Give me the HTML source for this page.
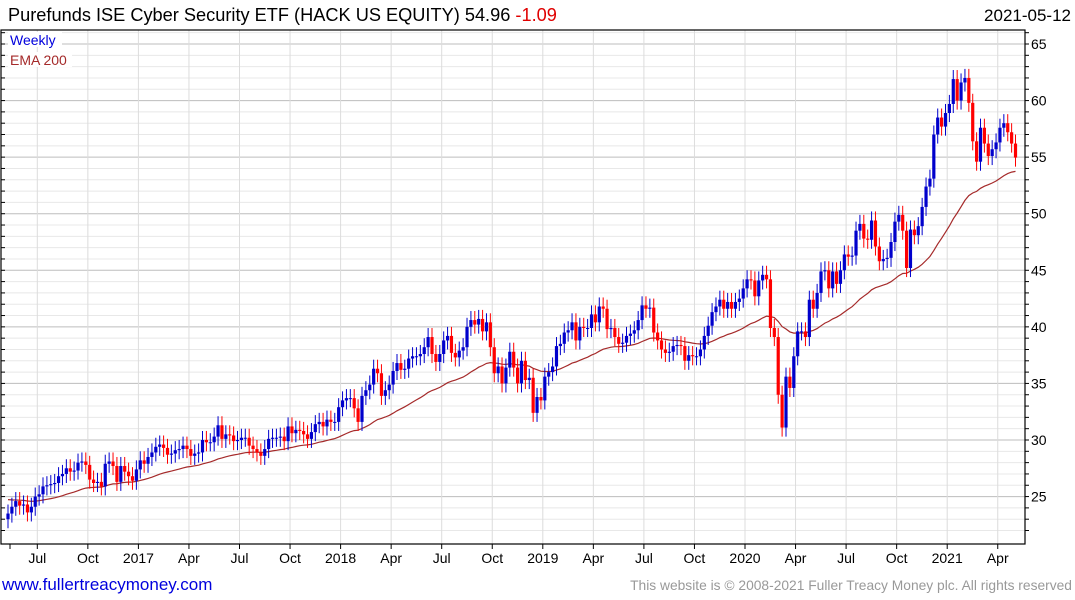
<!DOCTYPE html>
<html><head><meta charset="utf-8">
<style>
html,body{margin:0;padding:0;background:#fff;}
svg{display:block;font-family:"Liberation Sans",sans-serif;}
</style></head>
<body>
<svg id="chart" width="1075" height="600" viewBox="0 0 1075 600" xmlns="http://www.w3.org/2000/svg">
  <text x="8" y="21" font-size="18.2" fill="#000">Purefunds ISE Cyber Security ETF (HACK US EQUITY) 54.96 <tspan fill="#e00000">-1.09</tspan></text>
  <text x="1071" y="21" font-size="17" fill="#000" text-anchor="end">2021-05-12</text>
  <g id="grid"></g>
  <g id="marks"></g>
  <g id="axes"></g>
  <rect x="8" y="32" width="54" height="15" fill="#fff"/>
  <text x="10" y="45" font-size="14" fill="#0000dd">Weekly</text>
  <rect x="8" y="52" width="64" height="15" fill="#fff"/>
  <text x="10" y="65" font-size="14" fill="#a52a2a">EMA 200</text>
  <text x="2" y="590" font-size="17" fill="#0000dd">www.fullertreacymoney.com</text>
  <text x="1072" y="590" font-size="13.8" fill="#999" text-anchor="end">This website is © 2008-2021 Fuller Treacy Money plc. All rights reserved</text>
</svg>
<script>
const closes = [
23.5,24.1,24.6,24.2,24.3,23.6,24.1,25.0,25.2,25.9,26.0,26.1,26.2,26.8,27.0,27.5,27.2,27.3,28.0,28.1,
27.8,26.5,26.2,26.3,25.9,27.9,28.1,27.7,26.3,27.7,27.2,26.8,26.4,27.4,28.2,27.9,28.5,28.9,29.4,29.6,
29.3,28.7,28.8,29.1,29.2,29.5,29.2,28.6,28.8,28.9,30.0,29.8,29.8,30.3,31.3,30.1,30.5,30.4,29.9,30.0,
30.2,30.2,29.5,29.2,
28.9,28.6,29.2,30.1,30.2,30.2,30.3,29.9,31.2,30.6,30.9,30.8,30.5,30.1,30.7,31.4,31.6,31.2,31.8,31.6,
31.6,32.9,33.5,33.7,33.7,32.8,31.6,33.9,34.4,34.9,36.3,35.9,33.9,34.4,34.9,36.1,36.8,36.2,36.3,37.2,
37.4,37.4,37.6,38.2,39.1,37.6,36.9,37.6,38.8,39.2,37.7,37.3,37.9,38.2,40.0,40.6,40.2,40.7,39.6,40.4,
38.2,35.9,36.5,35.0,36.4,37.8,
36.4,35.0,37.0,35.3,35.5,32.4,33.8,33.5,35.6,36.0,36.5,38.3,38.5,39.5,39.7,40.4,38.8,40.0,39.9,39.9,
41.1,40.4,41.8,41.6,39.8,39.9,39.1,38.5,38.6,39.2,39.4,39.7,40.6,41.9,41.6,41.7,39.5,38.8,38.0,37.7,
37.8,38.3,38.4,38.3,37.0,37.5,37.4,37.4,38.0,39.2,40.1,41.3,41.8,42.4,41.6,42.2,41.6,42.2,42.5,43.4,
44.2,44.1,42.7,44.1,44.6,44.2,39.9,39.1,
34.0,31.1,35.6,34.6,37.4,39.6,39.6,39.1,42.4,41.6,43.0,44.9,45.0,43.4,44.9,43.8,45.0,46.4,46.2,46.3,
48.5,49.1,47.8,47.7,49.4,47.1,45.8,46.0,46.1,47.5,49.3,49.9,48.5,45.2,48.6,48.1,48.9,50.6,52.4,53.1,
57.0,58.5,57.7,58.9,59.7,61.9,60.0,61.6,62.0,59.8,56.4,54.6,57.6,56.2,55.1,55.7,56.3,57.6,58.0,57.2,
56.2,54.96
];
const firstOpen = 23.0;
const emaStart = 24.8;
const emaWeeks = 40;
const yTicks = [25,30,35,40,45,50,55,60,65];
const xTickLabels = ["Jul","Oct","2017","Apr","Jul","Oct","2018","Apr","Jul","Oct","2019","Apr","Jul","Oct","2020","Apr","Jul","Oct","2021","Apr"];

const NS = "http://www.w3.org/2000/svg";
const L = 1, R = 1025, T = 30, B = 544;
const yScale = v => 44 + (65 - v) * (396 / 35);
const xScale = i => 8 + i * 3.89;
const qx = k => 37.3 + k * 50.55;
function mk(tag, attrs, parent){ const e = document.createElementNS(NS, tag); for (const k in attrs) e.setAttribute(k, attrs[k]); parent.appendChild(e); return e; }
const grid = document.getElementById('grid'), marks = document.getElementById('marks'), axes = document.getElementById('axes');

for (let v = 22; v <= 66; v++) {
  const y = yScale(v);
  if (y < T || y > B) continue;
  const major = v % 5 === 0;
  const ln = mk('line', {x1:L, x2:R, y1:y, y2:y, stroke: major ? '#bdbdbd' : '#e8e8e8', 'stroke-width':1}, grid);
  
  
  const tk = mk('line', {x1:R, x2:R+4, y1:y, y2:y, stroke:'#000', 'stroke-width':1}, axes);
  
  
  const tl = mk('line', {x1:L, x2:L+4, y1:y, y2:y, stroke:'#000', 'stroke-width':1}, axes);
  
  
}
yTicks.forEach(v => {
  const t = mk('text', {x:R+6, y:yScale(v)+5, 'font-size':14, fill:'#000'}, axes);
  t.textContent = v;
  
  
});
xTickLabels.forEach((lab, k) => {
  const x = qx(k);
  const g = mk('line', {x1:x, x2:x, y1:T, y2:B, stroke:'#dcdcdc', 'stroke-width':1}, grid);
  
  
  const tk = mk('line', {x1:x, x2:x, y1:B, y2:B+5, stroke:'#000', 'stroke-width':1}, axes);
  
  
  const t = mk('text', {x:x, y:563, 'font-size':14, fill:'#000', 'text-anchor':'middle'}, axes);
  t.textContent = lab;
  
  
});
const t0 = mk('line', {x1:10, x2:10, y1:B, y2:B+5, stroke:'#000'}, axes);


const frame = mk('rect', {x:L, y:T, width:R-L, height:B-T, fill:'none', stroke:'#000', 'stroke-width':1.2}, axes);



const alpha = 2 / (emaWeeks + 1);
let ema = emaStart, pts = [];
closes.forEach((c, i) => { ema = ema + alpha * (c - ema); pts.push(xScale(i).toFixed(1) + ',' + yScale(ema).toFixed(1)); });
const emaLine = mk('polyline', {points: pts.join(' '), fill:'none', stroke:'#a52a2a', 'stroke-width':1.2}, marks);



closes.forEach((c, i) => {
  const o = i === 0 ? firstOpen : closes[i-1];
  const up = c >= o;
  const col = up ? '#0000cc' : '#ff0000';
  const x = xScale(i);
  const hi = Math.max(o, c) + 0.8, lo = Math.min(o, c) - 0.8;
  const w = mk('line', {x1:x, x2:x, y1:yScale(hi), y2:yScale(lo), stroke:col, 'stroke-width':1}, marks);
  
  
  const yt = yScale(Math.max(o, c)), yb = yScale(Math.min(o, c));
  const b = mk('rect', {x:x-1.6, y:yt, width:3.2, height:Math.max(1, yb-yt), fill:col}, marks);
  
  
});
</script>
</body></html>
